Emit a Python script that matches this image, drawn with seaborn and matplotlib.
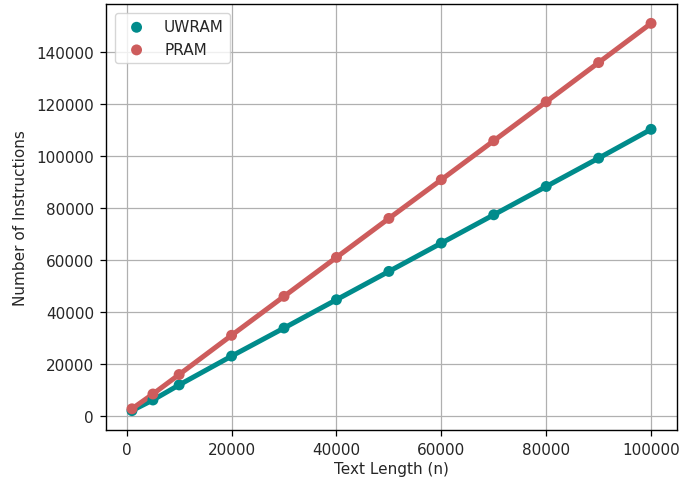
import matplotlib
matplotlib.use("Agg")
import matplotlib.pyplot as plt
import seaborn as sns
import pandas as pd

text_length = [1000, 5000, 10000, 20000, 30000, 40000, 50000, 60000, 70000, 80000, 90000, 100000]
uwram = [1900, 6000, 11800, 22900, 33700, 44600, 55500, 66400, 77300, 88200, 99100, 110200]
pram = [2600, 8300, 15800, 30900, 45900, 60900, 75900, 90800, 105800, 120800, 135900, 151000]
x_ticks = [0, 20000, 40000, 60000, 80000, 100000]
y_ticks = [0, 20000, 40000, 60000, 80000, 100000, 120000, 140000]

df = pd.DataFrame({"n": text_length, "UWRAM": uwram, "PRAM": pram})

sns.set_style("ticks")
plt.rcParams['font.family'] = ['DejaVu Sans']

fig = plt.figure(figsize=(6.82, 4.85), dpi=100)
ax = fig.add_axes([106/682, 54/485, 571/682, 426/485])

teal = "#008B8B"
red = "#CD5C5C"

sns.lineplot(data=df, x="n", y="UWRAM", ax=ax, color=teal, linewidth=3.6)
sns.lineplot(data=df, x="n", y="PRAM", ax=ax, color=red, linewidth=3.6)
sns.scatterplot(data=df, x="n", y="UWRAM", ax=ax, color=teal, s=62, edgecolor="none", label="UWRAM", zorder=3)
sns.scatterplot(data=df, x="n", y="PRAM", ax=ax, color=red, s=62, edgecolor="none", label="PRAM", zorder=3)

ax.grid(True, color="#b0b0b0", linewidth=0.9)
for sp in ax.spines.values():
    sp.set_color("black")
    sp.set_linewidth(1.0)
ax.tick_params(axis="both", colors="black", labelcolor="#262626", labelsize=11,
               length=4.2, width=0.9, pad=4.5)

ax.set_xlabel("Text Length (n)", fontsize=11, color="#262626", labelpad=3)
ax.set_ylabel("Number of Instructions", fontsize=11, color="#262626")
ax.yaxis.set_label_coords(-0.137, 0.5)

ax.set_xticks(x_ticks)
ax.set_yticks(y_ticks)

leg = ax.legend(loc="upper left", fontsize=11, frameon=True, borderaxespad=0.6)
leg.get_frame().set_edgecolor("#cccccc")

fig.savefig("out.png", dpi=100)
